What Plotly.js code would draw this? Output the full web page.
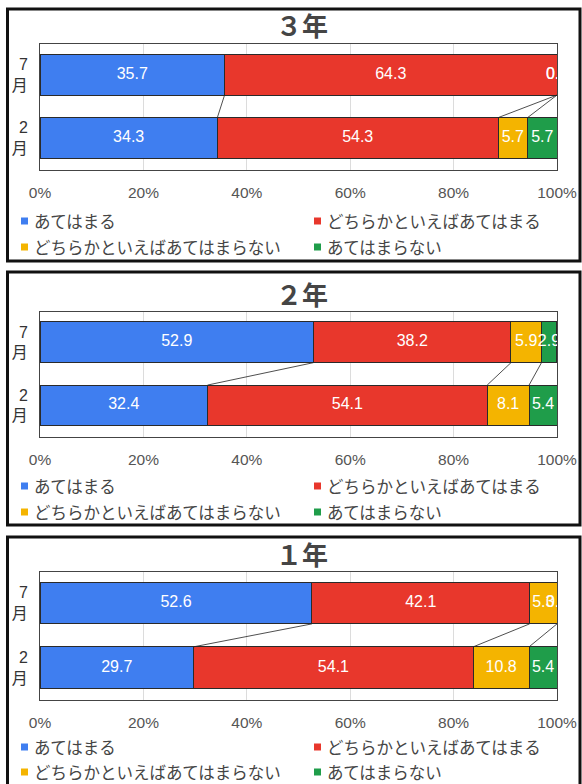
<!DOCTYPE html>
<html>
<head>
<meta charset="utf-8">
<script src="https://cdn.plot.ly/plotly-3.0.1.min.js"></script>
<style>
  html, body { margin: 0; padding: 0; background: #fff; }
  #chart { width: 582px; height: 784px; }
</style>
</head>
<body>
<div id="chart"></div>
<script>
// ---- data ----
const gradeTitles = ['３年', '２年', '１年'];
const monthPositions = [0, 1];            // 0 = 2月 (bottom), 1 = 7月 (top)
const monthTickText = ['2<br>月', '7<br>月'];
const seriesNames = ['あてはまる', 'どちらかといえばあてはまる', 'どちらかといえばあてはまらない', 'あてはまらない'];
const seriesColors = ['#3f7ef0', '#e8372c', '#f4b400', '#1f9d4a'];

const grade3Jul = [35.7, 64.3, 0.0, 0.0];
const grade3Feb = [34.3, 54.3, 5.7, 5.7];
const grade2Jul = [52.9, 38.2, 5.9, 2.9];
const grade2Feb = [32.4, 54.1, 8.1, 5.4];
const grade1Jul = [52.6, 42.1, 5.3, 0.0];
const grade1Feb = [29.7, 54.1, 10.8, 5.4];

const xTickVals = [0, 20, 40, 60, 80, 100];
const xTickText = ['0%', '20%', '40%', '60%', '80%', '100%'];

// ---- layout geometry (pixels) ----
const W = 582, H = 784;
const panels = [
  { jul: grade3Jul, feb: grade3Feb, border: [7.5, 9, 580, 261], plot: [44, 170], title: 25, legendRows: [221, 247] },
  { jul: grade2Jul, feb: grade2Feb, border: [7.5, 272, 580, 525], plot: [312, 437], title: 293, legendRows: [486, 512] },
  { jul: grade1Jul, feb: grade1Feb, border: [7.5, 537, 580, 820], plot: [572, 700], title: 553, legendRows: [747, 772] }
];
const plotLeft = 40, plotRight = 557;
const barWidth = 0.645;
const yRange = [-0.5, 1.48];
const px = x => x / W;
const py = y => 1 - y / H;

const numFont = 'Liberation Sans, Arial, sans-serif';
const jpFont = 'Noto Sans CJK JP, sans-serif';

function cumulative(arr) {
  const out = []; let s = 0;
  arr.forEach(v => { s += v; out.push(s); });
  return out;
}

const traces = [];
const shapes = [];
const annotations = [];
const layout = {
  width: W, height: H,
  margin: { l: 0, r: 0, t: 0, b: 0 },
  paper_bgcolor: '#fff', plot_bgcolor: '#fff',
  barmode: 'stack',
  showlegend: false,
  font: { family: numFont, color: '#444' }
};

panels.forEach((p, i) => {
  const sfx = i === 0 ? '' : String(i + 1);
  const xa = 'x' + sfx, ya = 'y' + sfx;

  layout['xaxis' + sfx] = {
    domain: [px(plotLeft), px(plotRight)],
    anchor: ya,
    range: [0, 100],
    tickvals: xTickVals, ticktext: xTickText,
    showgrid: true, gridcolor: '#dcdcdc', gridwidth: 1,
    zeroline: false,
    showline: true, linecolor: '#444', linewidth: 1, mirror: true,
    ticks: '', ticklabelstandoff: 8,
    tickfont: { family: numFont, size: 15.5, color: '#555' },
    fixedrange: true
  };
  layout['yaxis' + sfx] = {
    domain: [py(p.plot[1]), py(p.plot[0])],
    anchor: xa,
    range: yRange,
    tickvals: monthPositions, ticktext: monthTickText,
    showgrid: false, zeroline: false,
    showline: true, linecolor: '#444', linewidth: 1, mirror: true,
    ticks: '', ticklabelstandoff: 8,
    tickfont: { family: 'Liberation Sans, Noto Sans CJK JP, sans-serif', size: 16, color: '#333' },
    fixedrange: true
  };

  // bars
  seriesNames.forEach((name, s) => {
    traces.push({
      type: 'bar', orientation: 'h',
      name: name,
      x: [p.feb[s], p.jul[s]],
      y: monthPositions,
      width: barWidth,
      xaxis: xa, yaxis: ya,
      marker: { color: seriesColors[s], line: { color: '#2a2a2a', width: 1 } },
      hoverinfo: 'skip'
    });
  });

  // connector lines between cumulative boundaries
  const cJul = cumulative(p.jul), cFeb = cumulative(p.feb);
  for (let k = 0; k < seriesNames.length - 1; k++) {
    traces.push({
      type: 'scatter', mode: 'lines',
      x: [cJul[k], cFeb[k]],
      y: [monthPositions[1] - barWidth / 2, monthPositions[0] + barWidth / 2],
      xaxis: xa, yaxis: ya,
      line: { color: '#222', width: 0.8 },
      hoverinfo: 'skip', cliponaxis: false
    });
  }

  // value labels
  const lx = [], ly = [], lt = [];
  [[p.feb, cFeb, monthPositions[0]], [p.jul, cJul, monthPositions[1]]].forEach(([vals, cum, yy]) => {
    vals.forEach((v, s) => {
      lx.push(cum[s] - v / 2); ly.push(yy); lt.push(v.toFixed(1));
    });
  });
  traces.push({
    type: 'scatter', mode: 'text',
    x: lx, y: ly, text: lt,
    textposition: 'middle center',
    textfont: { family: numFont, size: 16, color: '#ffffff' },
    xaxis: xa, yaxis: ya,
    cliponaxis: true, hoverinfo: 'skip'
  });

  // panel border
  shapes.push({
    type: 'rect', xref: 'paper', yref: 'paper',
    x0: px(p.border[0]), x1: px(p.border[2]),
    y0: py(p.border[1]), y1: py(p.border[3]),
    line: { color: '#111', width: 3 }, fillcolor: 'rgba(0,0,0,0)', layer: 'above'
  });

  // title
  annotations.push({
    xref: 'paper', yref: 'paper',
    x: px(302), y: py(p.title),
    xanchor: 'center', yanchor: 'middle',
    text: '<b>' + gradeTitles[i] + '</b>',
    showarrow: false,
    font: { family: jpFont, size: 26, color: '#454545' }
  });

  // legend (2 x 2)
  const legendCols = [21, 314];
  seriesNames.forEach((name, s) => {
    const col = legendCols[s % 2];
    const row = p.legendRows[Math.floor(s / 2)];
    shapes.push({
      type: 'rect', xref: 'paper', yref: 'paper',
      x0: px(col), x1: px(col + 7),
      y0: py(row - 3.5), y1: py(row + 3.5),
      line: { width: 0 }, fillcolor: seriesColors[s]
    });
    annotations.push({
      xref: 'paper', yref: 'paper',
      x: px(col + 11), y: py(row),
      xanchor: 'left', yanchor: 'middle',
      text: name, showarrow: false,
      font: { family: jpFont, size: 16.5, color: '#454545' }
    });
  });
});

layout.shapes = shapes;
layout.annotations = annotations;

Plotly.newPlot('chart', traces, layout, { staticPlot: true, displayModeBar: false });
</script>
</body>
</html>
